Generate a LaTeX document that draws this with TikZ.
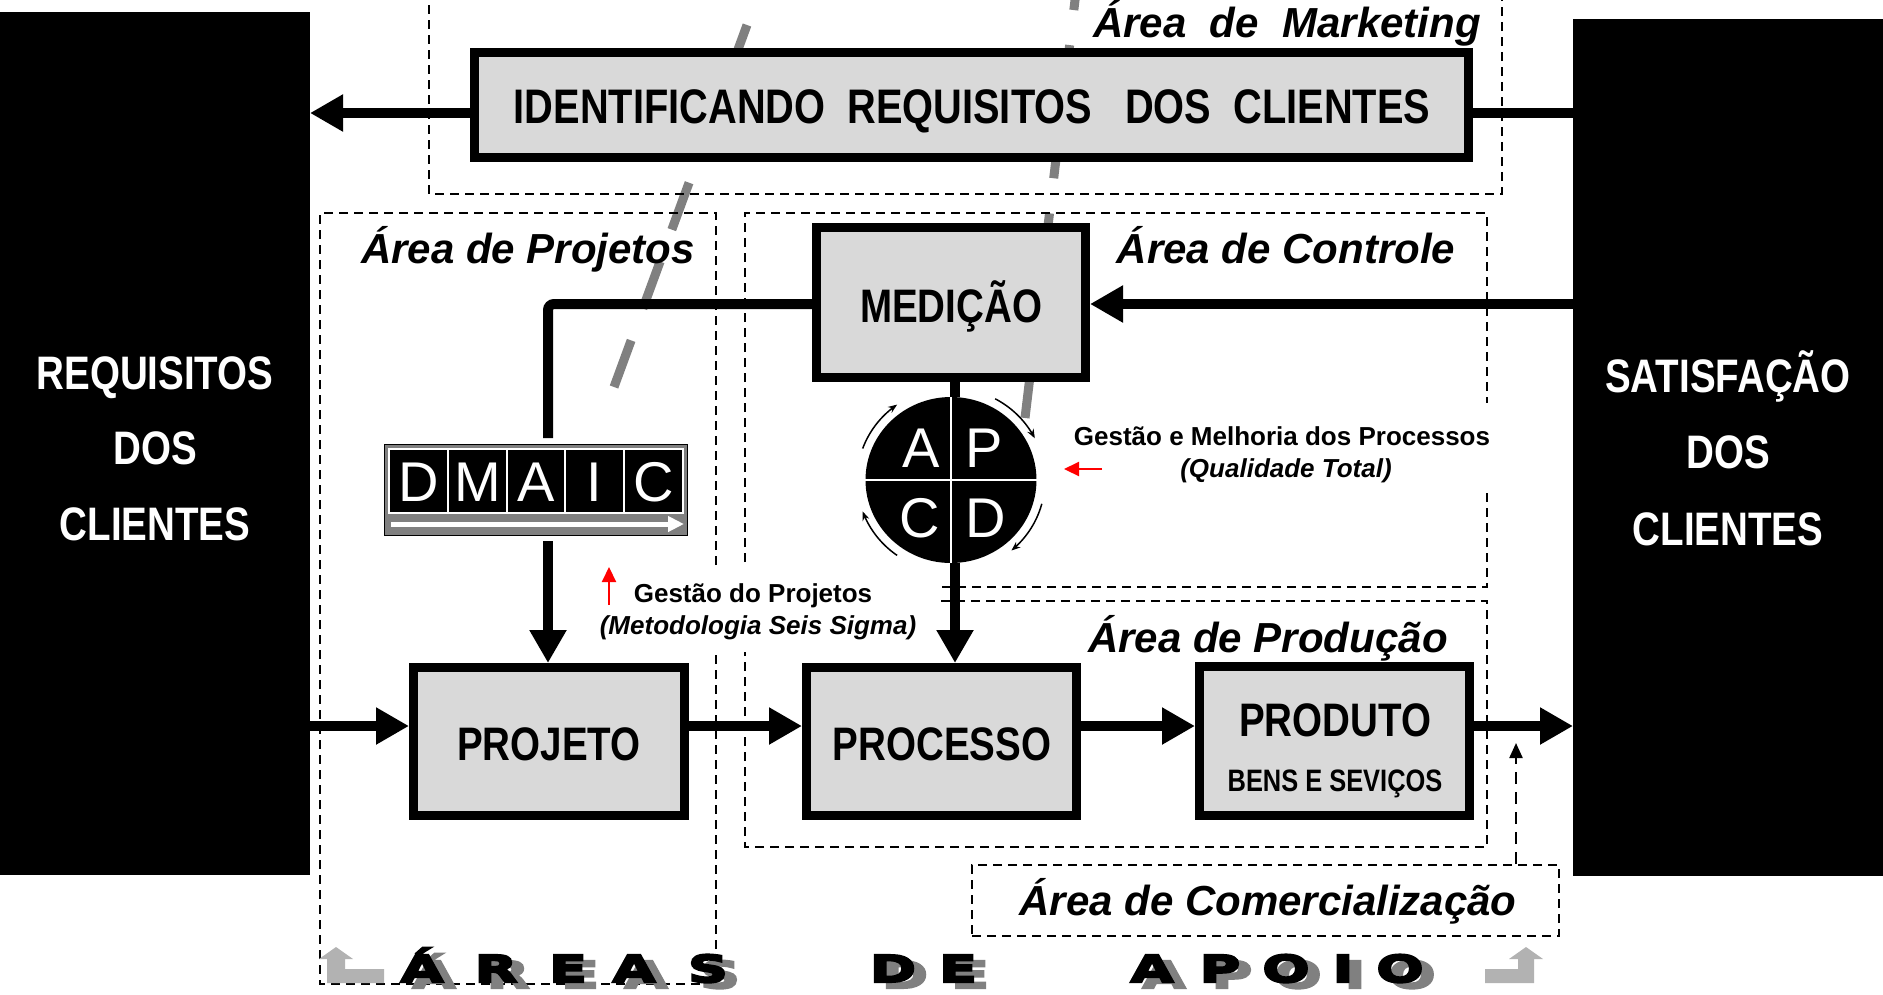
\documentclass[tikz,border=0pt]{standalone}
\usepackage{fontspec}
\setmainfont{Liberation Sans}
\newfontfamily\narrowfont[FakeStretch=0.82]{Liberation Sans}
\newfontfamily\widefont[FakeStretch=1.5, FakeBold=6]{DejaVu Sans}
\usetikzlibrary{arrows.meta,shapes.geometric}
\definecolor{boxgray}{RGB}{217,217,217}
\definecolor{midgray}{RGB}{128,128,128}
\definecolor{lightgraytwo}{RGB}{178,178,178}
\definecolor{dmgray}{RGB}{128,128,128}
\begin{document}
\begin{tikzpicture}[x=1pt,y=-1pt,
  box/.style={draw=black, line width=9pt, fill=boxgray, inner sep=0pt, outer sep=4.5pt},
  blackbox/.style={fill=black, inner sep=0pt, outer sep=0pt},
  conn/.style={line width=10pt, draw=black},
  bigtip/.style={-{Triangle[length=33pt,width=35pt]}},
  areadash/.style={line width=1.8pt, dash pattern=on 9pt off 6pt},
  graydash/.style={line width=9pt, draw=midgray},
  boxtext/.style={font={\narrowfont\bfseries\fontsize{47}{56}\selectfont}, anchor=base, inner sep=0pt},
  whitetext/.style={boxtext, text=white},
  areatitle/.style={font={\bfseries\itshape\fontsize{42}{50}\selectfont}, anchor=base, inner sep=0pt},
  notetext/.style={font={\bfseries\fontsize{26}{30}\selectfont}, anchor=base, inner sep=0pt},
  noteital/.style={font={\bfseries\itshape\fontsize{26}{30}\selectfont}, anchor=base, inner sep=0pt},
  redtip/.style={draw=red, line width=2.2pt, -{Triangle[length=15pt,width=14pt]}},
  cyc/.style={line width=1.5pt, -{Stealth[length=9pt,width=7pt]}},
  dcell/.style={fill=black, draw=white, line width=2pt, minimum width=59pt, minimum height=64pt,
    inner sep=0pt, text=white, font={\fontsize{56}{60}\selectfont}, text height=40pt, text depth=0pt},
  apcdl/.style={text=white, font={\fontsize{56}{60}\selectfont}, anchor=base, inner sep=0pt},
  apshadow/.style={text=midgray, font={\widefont\bfseries\fontsize{37}{40}\selectfont}, anchor=base, inner sep=0pt},
  apblack/.style={text=black, font={\widefont\bfseries\fontsize{37}{40}\selectfont}, anchor=base, inner sep=0pt},
  smalldash/.style={draw=black, line width=2.2pt, dash pattern=on 12pt off 8pt, -{Triangle[length=15pt,width=13pt]}}
]
\useasboundingbox (0,0) rectangle (1883,994);

% gray diagonal dashed lines (background)
\coordinate (gA1) at (747,25);
\coordinate (gA2) at (614,387);
\draw[graydash, dash pattern=on 50pt off 34pt] (gA1) -- (gA2);
\coordinate (gB1) at (1079.7,-39);
\coordinate (gB2) at (1025,418);
\draw[graydash, dash pattern=on 49.4pt off 35.3pt] (gB1) -- (gB2);

% dashed area outlines
\draw[areadash] (429,-10) -- (429,194) -- (1502,194) -- (1502,-10);
\draw[areadash] (716,565) -- (716,213) -- (320,213) -- (320,984) -- (716,984) -- (716,655);
\draw[areadash] (745,562) -- (745,213) -- (1487,213) -- (1487,403);
\draw[areadash] (1487,493) -- (1487,587) -- (941,587);
\draw[areadash] (941,601) -- (1487,601) -- (1487,847) -- (745,847) -- (745,652);
\node[areadash, draw, minimum width=587pt, minimum height=71pt, inner sep=0pt] (comerc) at (1265.5,900.5) {};

% big black side boxes
\node[blackbox, minimum width=310pt, minimum height=863pt] (lbox) at (155,443.5) {};
\node[blackbox, minimum width=310pt, minimum height=857pt] (rbox) at (1728,447.5) {};

% gray boxes
\node[box, minimum width=994pt, minimum height=105pt] (ident) at (971.5,105) {};
\node[box, minimum width=269pt, minimum height=150pt] (med) at (951,302.5) {};
\node[box, minimum width=271pt, minimum height=148pt] (projeto) at (549,741.5) {};
\node[box, minimum width=270pt, minimum height=148pt] (processo) at (941.5,741.5) {};
\node[box, minimum width=270pt, minimum height=149pt] (produto) at (1334.5,741) {};

% DMAIC
\node[draw=black, line width=1pt, fill=dmgray, minimum width=303pt, minimum height=91pt, inner sep=0pt] (dmaic) at (536,490) {};
\foreach \l/\cx [count=\i] in {D/418.5, M/477.5, A/536, I/594.5, C/653.5}
  \node[dcell] (dc\i) at (\cx,481) {\l};
\coordinate (wa1) at (391,524);
\coordinate (wa2) at (684,524);
\draw[white, line width=5pt, -{Triangle[length=16pt,width=15pt]}] (wa1) -- (wa2);

% APCD cycle
\node[ellipse, fill=black, minimum width=171pt, minimum height=166pt, inner sep=0pt] (apcd) at (951,480) {};
\draw[white, line width=2pt] (apcd.north) -- (apcd.south);
\draw[white, line width=2pt] (apcd.west) -- (apcd.east);
\node[apcdl] (lA) at (921,467) {A};
\node[apcdl] (lP) at (984,467) {P};
\node[apcdl] (lC) at (920,537) {C};
\node[apcdl] (lD) at (986,537) {D};
\draw[cyc] plot[domain=160:125, samples=25] ({951+94*cos(\x)},{480-92*sin(\x)});
\draw[cyc] plot[domain=62:27, samples=25] ({951+94*cos(\x)},{480-92*sin(\x)});
\draw[cyc] plot[domain=-15:-50, samples=25] ({951+94*cos(\x)},{480-92*sin(\x)});
\draw[cyc] plot[domain=235:200, samples=25] ({951+94*cos(\x)},{480-92*sin(\x)});

% connectors
\coordinate (rowA) at (0,113);
\coordinate (rowB) at (0,304);
\coordinate (rowC) at (0,726);
\coordinate (colP) at (548,0);
\coordinate (colM) at (955,0);
\coordinate (colK) at (1516,0);
\draw[conn, bigtip] (ident.west |- rowA) -- (lbox.east |- rowA);
\draw[conn] (rbox.west |- rowA) -- (ident.east |- rowA);
\draw[conn, bigtip] (rbox.west |- rowB) -- (med.east |- rowB);
\draw[conn, rounded corners=6pt] (med.west |- rowB) -| ([yshift=6pt]dmaic.north -| colP);
\draw[conn, bigtip] ([yshift=-5pt]dmaic.south -| colP) -- (projeto.north -| colP);
\draw[conn] (med.south -| colM) -- (apcd.north -| colM);
\draw[conn, bigtip] (apcd.south -| colM) -- (processo.north -| colM);
\draw[conn, bigtip] (lbox.east |- rowC) -- (projeto.west |- rowC);
\draw[conn, bigtip] (projeto.east |- rowC) -- (processo.west |- rowC);
\draw[conn, bigtip] (processo.east |- rowC) -- (produto.west |- rowC);
\draw[conn, bigtip] (produto.east |- rowC) -- (rbox.west |- rowC);
\coordinate (kTip) at (1516,743);
\draw[smalldash] (comerc.north -| colK) -- (kTip);

% red arrows
\coordinate (ru1) at (609,605);
\coordinate (ru2) at (609,567);
\draw[redtip] (ru1) -- (ru2);
\coordinate (rl1) at (1102,469);
\coordinate (rl2) at (1064,469);
\draw[redtip] (rl1) -- (rl2);

% box texts
\node[boxtext, font={\narrowfont\bfseries\fontsize{48.5}{56}\selectfont}] (tIdent) at (972,123) {IDENTIFICANDO~~REQUISITOS~~~DOS~~CLIENTES};
\node[boxtext] (tMed) at (951,322) {MEDIÇÃO};
\node[boxtext] (tProjeto) at (549,760) {PROJETO};
\node[boxtext] (tProc) at (942,760) {PROCESSO};
\node[boxtext] (tProd1) at (1335,736) {PRODUTO};
\node[boxtext, font={\narrowfont\bfseries\fontsize{31}{36}\selectfont}] (tProd2) at (1335,791) {BENS E SEVIÇOS};
\node[whitetext] (tL1) at (155,389) {REQUISITOS};
\node[whitetext] (tL2) at (155,464) {DOS};
\node[whitetext] (tL3) at (155,540) {CLIENTES};
\node[whitetext] (tR1) at (1728,392) {SATISFAÇÃO};
\node[whitetext] (tR2) at (1728,468) {DOS};
\node[whitetext] (tR3) at (1728,545) {CLIENTES};

% area titles
\node[areatitle] (tMark) at (1287,37) {Área~~de~~Marketing};
\node[areatitle] (tProj) at (528,263) {Área de Projetos};
\node[areatitle] (tCtrl) at (1286,263) {Área de Controle};
\node[areatitle] (tProdA) at (1268,652) {Área de Produção};
\node[areatitle] (tCom) at (1268,915) {Área de Comercialização};

% notes
\node[notetext] (nG1) at (1282,445) {Gestão e Melhoria dos Processos};
\node[noteital] (nG2) at (1286,477) {(Qualidade Total)};
\node[notetext] (nP1) at (753,602) {Gestão do Projetos};
\node[noteital] (nP2) at (758,634) {(Metodologia Seis Sigma)};

% bottom banner
\fill[lightgraytwo] (327,983) -- (327,959) -- (319,959) -- (336,947) -- (353,959) -- (345,959) -- (345,969) -- (384,969) -- (384,983) -- cycle;
\fill[lightgraytwo] (1534,983) -- (1534,959) -- (1543,959) -- (1526,947) -- (1509,959) -- (1518,959) -- (1518,969) -- (1485,969) -- (1485,983) -- cycle;
\foreach \l/\px [count=\i] in {Á/422, R/496, E/568, A/634, S/708, D/893, E/958, A/1152, P/1220, O/1286, I/1343, O/1400} {
  \node[apshadow] (sh\i) at (\px+12,988) {\l};
  \node[apblack] (bl\i) at (\px,982) {\l};
}
\end{tikzpicture}
\end{document}
